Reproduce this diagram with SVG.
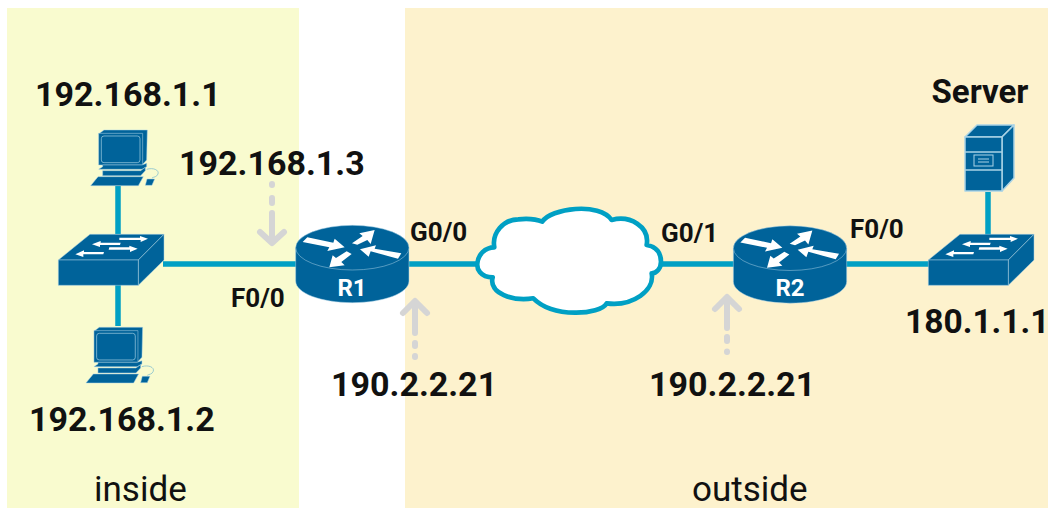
<svg xmlns="http://www.w3.org/2000/svg" width="1048" height="508" viewBox="0 0 1048 508">
<style>
.t{font-family:Roboto,"Liberation Sans",sans-serif;fill:#111}
.b{font-weight:700;font-size:34px}
.s{font-weight:700;font-size:26px}
.r{font-size:35px}
.l{fill:none;stroke:#00a0c4;stroke-width:5.500}
.d{fill:#00639a;stroke:#a9d3e6;stroke-width:1.500;stroke-linejoin:round}
.w{fill:#fff}
.g{fill:none;stroke:#d5d5d5;stroke-width:6;stroke-linecap:round;stroke-linejoin:round}
</style>
<defs>
<g id="pc" transform="scale(.3333)">
<path class="d" d="M206 72L222 60H352L350 150L336 165V72Z"/>
<rect class="d" x="206" y="70" width="132" height="95"/>
<rect x="214" y="78" width="116" height="80" rx="8" fill="none" stroke="#a9d3e6" stroke-width="2"/>
<path class="d" d="M218 165H336L350 160V170L336 178H206L218 170Z"/>
<path class="d" d="M218 182H332L346 172V182L332 197H218Z"/>
<path class="d" d="M204 200H340L325 227H182Z"/>
<path d="M350 178C370 172 388 180 384 192C380 202 372 200 366 204" fill="none" stroke="#6fb5cf" stroke-width="2"/>
<path class="d" d="M351 207H374L366 226H346Z"/>
</g>
<g id="sw" transform="scale(.3333)">
<path class="d" d="M85 450L180 373H402L325 450Z"/>
<path class="d" d="M325 450L402 373V450L325 526Z"/>
<rect class="d" x="85" y="450" width="240" height="76"/>
<path class="w" d="M268 383H330V378L354 386L332 396V390H268ZM272 398H212V393L186 403L210 411V405H270ZM238 412H298V407L323 416L300 426V419H236ZM222 426H162V421L136 433L160 441V433H220Z"/>
</g>
<g id="rt" transform="scale(.3333)">
<path class="d" d="M137 233V333C137 370 214 398 307 398S477 370 477 333V233Z"/>
<ellipse class="d" cx="307" cy="233" rx="170" ry="67"/>
<path class="w" d="M158 216L172 202L250 218L254 206L284 232L232 243L238 232ZM306 220L338 198L328 190L374 180L362 222L352 210L322 224ZM454 250L444 266L362 244L356 260L330 238L378 226L374 236ZM305 252L274 276L284 286L238 292L248 256L258 264L290 244Z"/>
</g>
</defs>

<g id="zones">
<rect id="inside-zone" x="7" y="8" width="292" height="500" fill="#f9fbcf"/>
<rect id="outside-zone" x="405" y="8" width="643" height="500" fill="#fdf2cd"/>
</g>

<g id="connectors">
<path class="l" d="M118 186V234M118 285V326M163 264H296M409 264H480M660 264H734M845 264H930M988 192V235"/>
<path class="g" d="M272 184V185M272 198V203M272 213V241M260 232L272 243L284 232"/>
<path class="g" d="M415 356V357M415 343V346M415 304V333M403 313L415 301L427 313"/>
<path class="g" d="M727 351.500V352M727 337V341M727 300V328M715 309L727 297L739 309"/>
</g>

<g id="cloud">
<path transform="translate(460 190) scale(.3333)" d="M98 262C60 262 50 235 52 220C54 195 75 172 103 172C95 130 130 88 175 88C205 85 230 88 247 95C270 55 420 35 455 90C510 75 570 110 560 165C590 170 603 190 603 215C603 235 590 250 575 250C585 300 520 350 440 340C420 375 280 385 220 325C160 335 85 310 98 262Z" fill="#fff" stroke="#00a0c4" stroke-width="14" stroke-linejoin="round"/>
</g>

<g id="pc1"><use href="#pc" transform="translate(30 110)"/><text class="t b" x="35" y="106">192.168.1.1</text></g>
<g id="pc2"><use href="#pc" transform="translate(25.300 307.300)"/><text class="t b" x="29" y="431">192.168.1.2</text></g>
<g id="sw1"><use href="#sw" transform="translate(30 110)"/></g>
<g id="r1"><use href="#rt" transform="translate(250 170)"/>
<text x="352" y="296" text-anchor="middle" class="t" style="font-size:24px;font-weight:700;fill:#fff">R1</text>
<text class="t s" x="231" y="307">F0/0</text><text class="t s" x="410" y="241">G0/0</text></g>
<g id="r2"><use href="#rt" transform="translate(687.700 170.500)"/>
<text x="790" y="296" text-anchor="middle" class="t" style="font-size:24px;font-weight:700;fill:#fff">R2</text>
<text class="t s" x="661" y="242">G0/1</text><text class="t s" x="850" y="238">F0/0</text></g>
<g id="sw2"><use href="#sw" transform="translate(900 110)"/><text class="t b" x="905" y="333" style="font-size:33.500px">180.1.1.1</text></g>
<g id="server">
<path class="d" d="M965 137L977 125H1014L1002 137Z"/>
<path class="d" d="M1002 137L1014 125V178L1002 191Z"/>
<rect class="d" x="965" y="137" width="37" height="54"/>
<path d="M965 152H1002M965 170H1002" stroke="#a9d3e6" stroke-width="1.500"/>
<rect x="974" y="155" width="19" height="11" fill="none" stroke="#a9d3e6" stroke-width="1"/>
<path d="M978 159H989M978 162H989" stroke="#a9d3e6" stroke-width="1"/>
<text class="t" x="980" y="103" text-anchor="middle" style="font-size:33px;font-weight:700">Server</text>
</g>
<g id="labels">
<text class="t b" x="179" y="175">192.168.1.3</text>
<text class="t b" x="331" y="396">190.2.2.21</text>
<text class="t b" x="649" y="396">190.2.2.21</text>
<text class="t r" x="94" y="501">inside</text>
<text class="t r" x="692" y="501">outside</text>
</g>
</svg>
